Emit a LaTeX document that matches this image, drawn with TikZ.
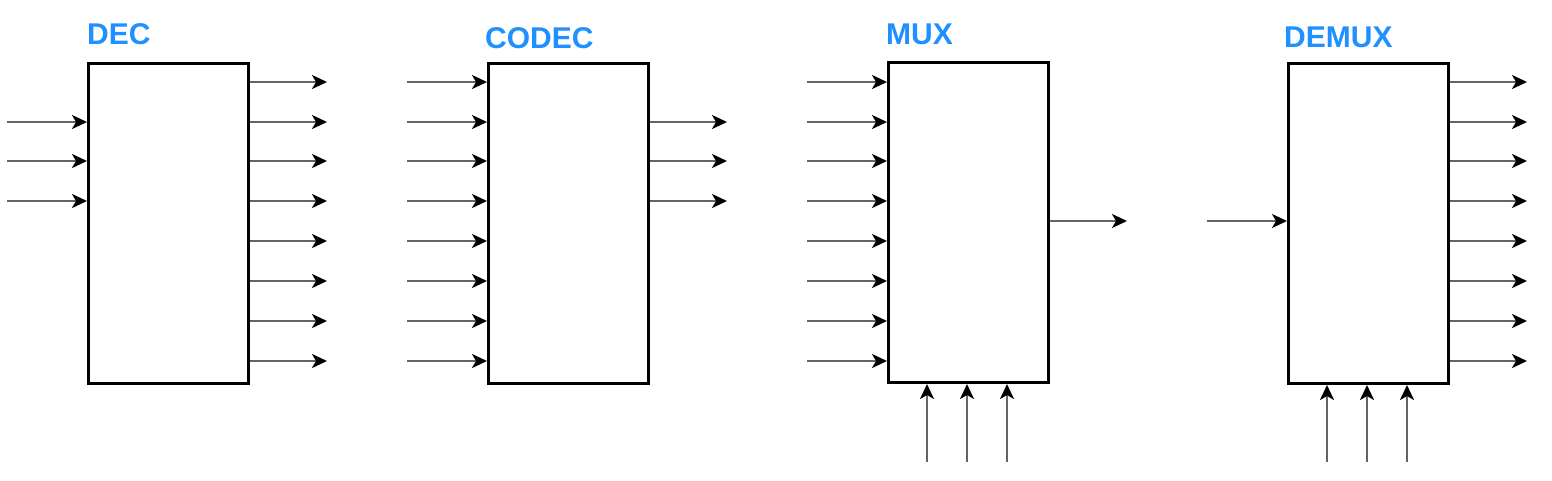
\documentclass[tikz,border=0pt]{standalone}
\usepackage{fontspec}
\setmainfont{Liberation Sans}
\usetikzlibrary{arrows.meta}
\definecolor{lblue}{RGB}{30,144,255}
\definecolor{wire}{RGB}{100,100,100}
\tikzset{
  blk/.style={draw=black,line width=3pt,fill=white,minimum width=160pt,minimum height=320pt,inner sep=0pt,anchor=north west},
  sig/.style={draw=wire,line width=2.2pt,-{Stealth[length=15pt,width=14pt,inset=4pt,black]}},
  ttl/.style={text=lblue,font=\bfseries\fontsize{30}{30}\selectfont,inner sep=0pt,anchor=base west}
}
\begin{document}
\begin{tikzpicture}[x=1pt,y=-1pt]
\useasboundingbox (0,0) rectangle (1552,480);
% boxes
\node[blk] (dec) at (87,62) {};
\node[blk] (codec) at (487,62) {};
\node[blk] (mux) at (887,61) {};
\node[blk] (demux) at (1287,62) {};
% titles
\node[ttl] (tdec) at (87,44) {DEC};
\node[ttl] (tcodec) at (485,48) {CODEC};
\node[ttl] (tmux) at (886,44) {MUX};
\node[ttl] (tdemux) at (1284,47) {DEMUX};
% DEC
\foreach \y [count=\i] in {122,161,201}{
  \coordinate (di\i) at (7,\y);
  \draw[sig] (di\i) -- (di\i -| dec.west);
}
\foreach \y [count=\i] in {82,122,161,201,241,281,321,361}{
  \coordinate (do\i) at (327,\y);
  \draw[sig] (do\i -| dec.east) -- (do\i);
}
% CODEC
\foreach \y [count=\i] in {82,122,161,201,241,281,321,361}{
  \coordinate (ci\i) at (407,\y);
  \draw[sig] (ci\i) -- (ci\i -| codec.west);
}
\foreach \y [count=\i] in {122,161,201}{
  \coordinate (co\i) at (727,\y);
  \draw[sig] (co\i -| codec.east) -- (co\i);
}
% MUX
\foreach \y [count=\i] in {82,122,161,201,241,281,321,361}{
  \coordinate (mi\i) at (807,\y);
  \draw[sig] (mi\i) -- (mi\i -| mux.west);
}
\coordinate (mo) at (1127,221);
\draw[sig] (mo -| mux.east) -- (mo);
\foreach \x [count=\i] in {927,967,1007}{
  \coordinate (ms\i) at (\x,462);
  \draw[sig] (ms\i) -- (ms\i |- mux.south);
}
% DEMUX
\coordinate (xi) at (1207,221);
\draw[sig] (xi) -- (xi -| demux.west);
\foreach \y [count=\i] in {82,122,161,201,241,281,321,361}{
  \coordinate (xo\i) at (1527,\y);
  \draw[sig] (xo\i -| demux.east) -- (xo\i);
}
\foreach \x [count=\i] in {1327,1367,1407}{
  \coordinate (xs\i) at (\x,462);
  \draw[sig] (xs\i) -- (xs\i |- demux.south);
}
\end{tikzpicture}
\end{document}
